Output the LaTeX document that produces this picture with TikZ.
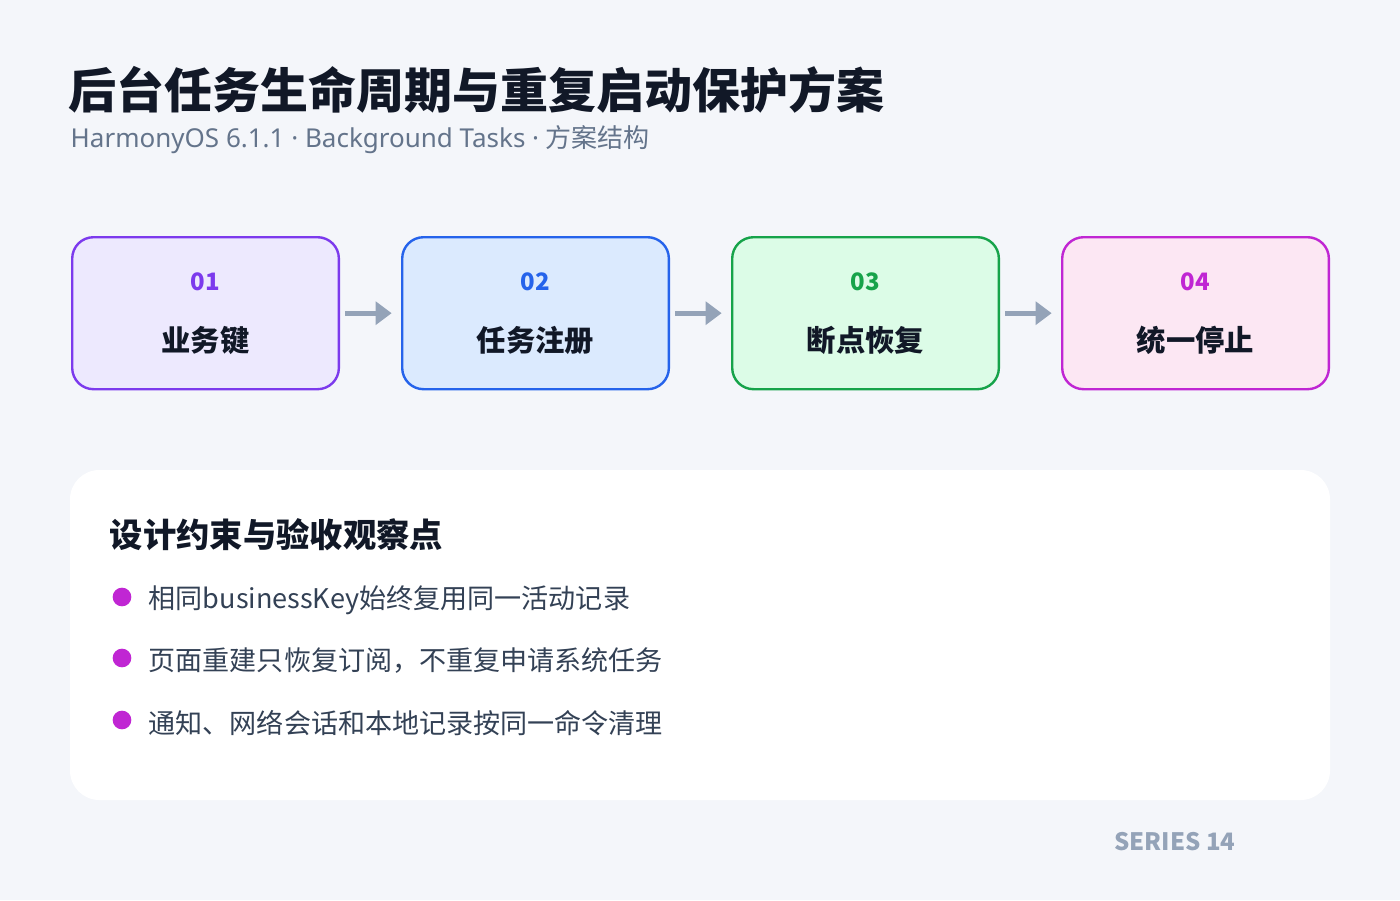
\documentclass[tikz,border=0pt]{standalone}
\usepackage{fontspec}
\setmainfont{Noto Sans CJK SC}
\newfontfamily\latinf{Noto Sans}
\usetikzlibrary{arrows.meta}
\definecolor{bg}{HTML}{F4F6FA}
\definecolor{ink}{HTML}{111827}
\definecolor{txt}{HTML}{334155}
\definecolor{sub}{HTML}{64748B}
\definecolor{arr}{HTML}{94A3B8}
\definecolor{pS}{HTML}{7C3AED}\definecolor{pF}{HTML}{EDE9FE}
\definecolor{bS}{HTML}{2563EB}\definecolor{bF}{HTML}{DBEAFE}
\definecolor{gS}{HTML}{16A34A}\definecolor{gF}{HTML}{DCFCE7}
\definecolor{mS}{HTML}{C026D3}\definecolor{mF}{HTML}{FCE7F3}
\begin{document}
\begin{tikzpicture}[x=0.75pt,y=-0.75pt,
  stepbox/.style={draw,line width=1.8pt,rounded corners=16pt,minimum width=200pt,minimum height=114pt,anchor=north west},
  num/.style={font=\bfseries\fontsize{18}{20}\selectfont},
  lab/.style={font=\bfseries\fontsize{22}{24}\selectfont,text=ink},
  con/.style={arr,line width=4pt,-{Triangle[length=12pt,width=17pt]}},
  bul/.style={circle,fill=mS,inner sep=0pt,minimum size=14pt},
  btxt/.style={anchor=west,font=\fontsize{20.3}{23}\selectfont,text=txt}]
\fill[bg] (0,0) rectangle (1400,900);
\useasboundingbox (0,0) rectangle (1400,900);
\node[anchor=west,font=\bfseries\fontsize{36}{40}\selectfont,text=ink] (title) at (64,90) {后台任务生命周期与重复启动保护方案};
\node[anchor=west,font=\fontsize{19.5}{22}\selectfont,text=sub] (subt) at (66,140) {{\latinf HarmonyOS 6.1.1 · Background Tasks · }方案结构};
\node[stepbox,draw=pS,fill=pF] (b1) at (71,236) {};
\node[stepbox,draw=bS,fill=bF] (b2) at (401,236) {};
\node[stepbox,draw=gS,fill=gF] (b3) at (731,236) {};
\node[stepbox,draw=mS,fill=mF] (b4) at (1061,236) {};
\foreach \i/\c/\n/\t in {1/pS/01/业务键,2/bS/02/任务注册,3/gS/03/断点恢复,4/mS/04/统一停止}{
  \node[num,text=\c] (n\i) at ([yshift=-34pt]b\i.north) {\n};
  \node[lab] (l\i) at ([yshift=-78pt]b\i.north) {\t};
}
\draw[con] ([xshift=4pt]b1.east) -- ([xshift=-7pt]b2.west);
\draw[con] ([xshift=4pt]b2.east) -- ([xshift=-7pt]b3.west);
\draw[con] ([xshift=4pt]b3.east) -- ([xshift=-7pt]b4.west);
\fill[white,rounded corners=22pt] (70,470) rectangle (1330,800);
\node[anchor=west,font=\bfseries\fontsize{25}{28}\selectfont,text=ink] (h) at (105,535) {设计约束与验收观察点};
\node[bul] (d1) at (122,597) {}; \node[btxt] (t1) at (144,600) {相同businessKey始终复用同一活动记录};
\node[bul] (d2) at (122,658) {}; \node[btxt] (t2) at (144,661) {页面重建只恢复订阅，不重复申请系统任务};
\node[bul] (d3) at (122,720) {}; \node[btxt] (t3) at (144,723) {通知、网络会话和本地记录按同一命令清理};
\node[anchor=east,font=\bfseries\fontsize{18}{20}\selectfont,text=arr] (s) at (1240,842) {SERIES 14};
\end{tikzpicture}
\end{document}
